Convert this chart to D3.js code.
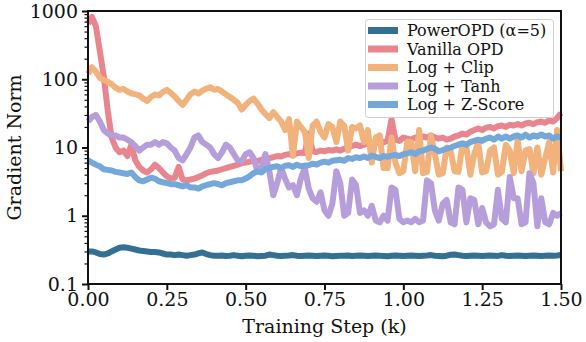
<!DOCTYPE html>
<html>
<head>
<meta charset="utf-8">
<script src="https://cdn.jsdelivr.net/npm/d3@7"></script>
<style>
  body { margin: 0; background: #fff; }
</style>
</head>
<body>
<div id="lineChart"></div>
<script>
// training steps (k), one reading every 12.5 steps
const steps = d3.range(121).map(i => i * 0.0125);

const seriesNames = ["PowerOPD (\u03b1=5)", "Vanilla OPD", "Log + Clip", "Log + Tanh", "Log + Z-Score"];
const seriesColors = ["#346f96", "#e8858f", "#f2b27c", "#b69edb", "#75a8da"];

const powerOPD = [
  0.30, 0.30, 0.29, 0.275, 0.27, 0.28, 0.30, 0.32, 0.34, 0.345,
  0.34, 0.33, 0.32, 0.31, 0.305, 0.30, 0.295, 0.295, 0.29, 0.28,
  0.27, 0.27, 0.265, 0.27, 0.265, 0.26, 0.265, 0.27, 0.28, 0.29,
  0.275, 0.265, 0.26, 0.26, 0.262, 0.258, 0.26, 0.265, 0.26, 0.255,
  0.26, 0.262, 0.26, 0.255, 0.258, 0.26, 0.27, 0.265, 0.26, 0.258,
  0.26, 0.262, 0.265, 0.26, 0.258, 0.26, 0.262, 0.26, 0.258, 0.26,
  0.262, 0.26, 0.255, 0.258, 0.26, 0.26, 0.262, 0.258, 0.26, 0.262,
  0.26, 0.258, 0.26, 0.262, 0.26, 0.258, 0.255, 0.26, 0.262, 0.26,
  0.258, 0.26, 0.262, 0.26, 0.258, 0.26, 0.262, 0.265, 0.26, 0.258,
  0.255, 0.26, 0.268, 0.27, 0.265, 0.26, 0.258, 0.26, 0.262, 0.26,
  0.258, 0.26, 0.262, 0.26, 0.258, 0.265, 0.26, 0.258, 0.26, 0.262,
  0.26, 0.258, 0.26, 0.262, 0.26, 0.258, 0.26, 0.262, 0.26, 0.262, 0.265
];

const vanillaOPD = [
  650, 820, 600, 260, 110, 35, 14, 10, 8.5, 9,
  7.5, 11, 6.5, 5.2, 4.6, 4.3, 4.8, 5.6, 5.0, 4.3,
  3.8, 3.5, 3.6, 5.2, 3.4, 3.3, 3.4, 3.5, 3.7, 3.9,
  4.2, 4.4, 4.5, 4.6, 4.8, 5.0, 5.2, 5.4, 5.6, 5.9,
  6.0, 6.2, 6.4, 6.3, 6.6, 6.9, 7.0, 7.2, 7.5, 7.4,
  7.8, 8.0, 7.7, 8.2, 8.4, 8.3, 16, 8.8, 8.6, 9.0,
  8.8, 9.2, 9.0, 9.4, 9.0, 9.6, 10, 10.5, 11, 10.5,
  11, 11.5, 11, 12, 11.5, 12, 12.5, 26, 13, 12.5,
  14, 13.5, 13, 14, 13.5, 14.5, 14, 15, 14, 13.5,
  14, 13, 13.5, 14.5, 15, 16, 15.5, 17, 18, 19,
  18, 19.5, 20, 19, 20.5, 21, 20, 21.5, 21, 22,
  21, 22.5, 23, 22, 23.5, 24, 23, 25, 24, 27, 32
];

const logClip = [
  120, 150, 130, 105, 98, 92, 85, 75, 70, 72,
  66, 62, 60, 58, 52, 48, 55, 60, 58, 65,
  70, 63, 56, 48, 42, 50, 60, 66, 62, 68,
  73, 76, 70, 72, 66, 60, 55, 50, 45, 36,
  42, 48, 52, 44, 36, 31, 27, 33, 28, 24,
  18, 26, 7.5, 24, 20, 17, 7, 21, 24, 17,
  14, 22, 20, 12, 24, 21, 9, 20, 19, 21,
  12, 18, 6, 14, 15, 5, 5, 14, 6, 4.2,
  4.5, 12, 12, 4.5, 18, 4.2, 4.4, 15, 8, 4.0,
  4.2, 10, 9, 4.5, 4.4, 11, 10, 4.0, 8, 12,
  4.3, 4.5, 9, 10, 4.0, 4.4, 11, 9, 4.2, 13,
  4.5, 9, 9.5, 4.2, 10, 4.0, 7, 12, 4.3, 18, 4.5
];

const logTanh = [
  24, 28, 30, 24, 18, 16, 15, 15, 14, 14,
  13, 12, 10.5, 9, 10, 11, 11, 12, 11, 12,
  11.5, 10, 9, 7, 6.5, 8, 10, 14, 15, 12,
  11, 10, 8, 7, 8.5, 11, 10, 8, 6.5, 6.3,
  8, 8.5, 7, 4.5, 5, 8, 4.5, 2.0, 3.0, 5,
  3.5, 2.6, 2.8, 2.0, 3.5, 5, 2.5, 1.8, 1.6, 2.2,
  1.2, 1.0, 1.5, 4.5, 3.0, 1.0, 1.1, 3.4, 2.8, 1.1,
  1.2, 1.0, 1.4, 0.85, 0.8, 1.0, 0.85, 2.6, 2.4, 0.9,
  0.8, 0.85, 0.8, 0.9, 0.8, 0.85, 3.3, 3.0, 1.2, 0.85,
  1.5, 1.7, 0.8, 0.75, 2.6, 2.4, 0.8, 1.8, 1.7, 0.75,
  1.3, 0.8, 0.7, 0.75, 2.4, 0.9, 0.8, 3.7, 1.8, 1.8,
  0.75, 0.8, 4.2, 3.0, 0.7, 1.8, 0.8, 0.75, 1.1, 1.0, 1.1
];

const logZScore = [
  6.5, 6.0, 5.6, 5.3, 4.8, 4.7, 4.6, 4.4, 4.3, 4.2,
  4.1, 4.3, 3.7, 3.3, 3.2, 3.4, 3.6, 3.5, 3.2, 3.1,
  3.0, 2.9, 2.9, 2.8, 2.7, 2.8, 2.6, 2.6, 2.5, 2.7,
  2.8, 2.9, 3.0, 2.9, 2.8, 3.0, 3.1, 3.2, 3.3, 3.3,
  3.5, 3.8, 4.2, 4.5, 4.3, 4.8, 5.0, 5.2, 5.3, 5.0,
  5.4, 5.5, 5.2, 5.6, 5.3, 5.4, 5.5, 5.8, 5.6, 6.0,
  6.2, 6.0, 6.4, 6.5, 6.6, 6.4, 7.0, 6.8, 7.2, 7.0,
  7.4, 7.0, 7.6, 7.3, 7.0, 7.5, 7.3, 7.6, 7.8, 7.5,
  8.0, 8.2, 8.5, 8.0, 8.8, 9.0, 9.5, 10, 9.6, 8.8,
  9.2, 9.6, 10, 10.5, 11, 11.5, 11, 12, 12.5, 13,
  12.5, 13.5, 14, 13, 14.5, 13.5, 14.5, 13.5, 14.5, 15,
  14, 15.5, 14, 15, 14.5, 15.5, 14.5, 15, 13.5, 14.5, 14
];

const seriesValues = [powerOPD, vanillaOPD, logClip, logTanh, logZScore];

const xTicks = [0, 0.25, 0.5, 0.75, 1.0, 1.25, 1.5];
const yTicks = [0.1, 1, 10, 100, 1000];

const FONT = "DejaVu Serif";
const W = 586, H = 342;
const plot = {left: 88, right: 561, top: 11, bottom: 284};

const svg = d3.select("#lineChart").append("svg")
  .attr("width", W)
  .attr("height", H);

const x = d3.scaleLinear().domain([0, 1.5]).range([plot.left, plot.right]);
const y = d3.scaleLog().domain([0.1, 1000]).range([plot.bottom, plot.top]);

// lines
const line = d3.line()
  .x((d, i) => x(steps[i]))
  .y(d => y(d));

const lines = svg.append("g");
seriesValues.forEach((vals, k) => {
  lines.append("path")
    .datum(vals)
    .attr("d", line)
    .attr("fill", "none")
    .attr("stroke", seriesColors[k])
    .attr("stroke-width", 6)
    .attr("stroke-linejoin", "round")
    .attr("stroke-linecap", "butt");
});

// minor log ticks
const minorTicks = [];
[0.1, 1, 10, 100].forEach(dec => {
  for (let m = 2; m <= 9; m++) minorTicks.push(dec * m);
});

svg.append("g")
  .attr("transform", `translate(${plot.left},0)`)
  .call(d3.axisLeft(y).tickValues(minorTicks).tickSize(3.5).tickFormat(""))
  .call(g => g.select(".domain").remove())
  .call(g => g.selectAll("line").attr("stroke", "#111").attr("stroke-width", 1.2));

// y axis
svg.append("g")
  .attr("transform", `translate(${plot.left},0)`)
  .call(d3.axisLeft(y).tickValues(yTicks).tickSize(6).tickPadding(4).tickFormat(d => String(d)))
  .attr("font-family", FONT)
  .call(g => g.select(".domain").remove())
  .call(g => g.selectAll("line").attr("stroke", "#111").attr("stroke-width", 2))
  .call(g => g.selectAll("text").attr("font-size", 19).attr("font-family", FONT).attr("fill", "#111"));

// x axis
svg.append("g")
  .attr("transform", `translate(0,${plot.bottom})`)
  .call(d3.axisBottom(x).tickValues(xTicks).tickSize(6).tickPadding(3).tickFormat(d3.format(".2f")))
  .attr("font-family", FONT)
  .call(g => g.select(".domain").remove())
  .call(g => g.selectAll("line").attr("stroke", "#111").attr("stroke-width", 2))
  .call(g => g.selectAll("text").attr("font-size", 19).attr("font-family", FONT).attr("fill", "#111"));

// frame
svg.append("rect")
  .attr("x", plot.left)
  .attr("y", plot.top)
  .attr("width", plot.right - plot.left)
  .attr("height", plot.bottom - plot.top)
  .attr("fill", "none")
  .attr("stroke", "#111")
  .attr("stroke-width", 2);

// axis labels
svg.append("text")
  .attr("x", (plot.left + plot.right) / 2)
  .attr("y", 333)
  .attr("text-anchor", "middle")
  .attr("font-family", FONT)
  .attr("font-size", 19)
  .attr("fill", "#111")
  .text("Training Step (k)");

svg.append("text")
  .attr("transform", `translate(21,${(plot.top + plot.bottom) / 2}) rotate(-90)`)
  .attr("text-anchor", "middle")
  .attr("font-family", FONT)
  .attr("font-size", 19)
  .attr("fill", "#111")
  .text("Gradient Norm");

// legend
const legend = svg.append("g");
legend.append("rect")
  .attr("x", 365.5)
  .attr("y", 19.5)
  .attr("width", 188)
  .attr("height", 98)
  .attr("rx", 3)
  .attr("fill", "#fff")
  .attr("fill-opacity", 0.8)
  .attr("stroke", "#d0d0d0")
  .attr("stroke-width", 1);

seriesNames.forEach((name, k) => {
  const cy = 30.5 + k * 18.5;
  legend.append("rect")
    .attr("x", 368)
    .attr("y", cy - 3.5)
    .attr("width", 30)
    .attr("height", 7)
    .attr("fill", seriesColors[k]);
  legend.append("text")
    .attr("x", 407)
    .attr("y", cy + 5.5)
    .attr("font-family", FONT)
    .attr("font-size", 16)
    .attr("fill", "#111")
    .text(name);
});
</script>
</body>
</html>
